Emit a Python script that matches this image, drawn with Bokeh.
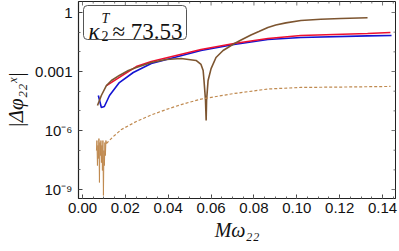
import numpy as np
from bokeh.plotting import figure
from bokeh.models import (Range1d, FixedTicker, Label, BoxAnnotation, NumeralTickFormatter)
from bokeh.embed import file_html
from bokeh.resources import INLINE

# ---------------- data ----------------
red_x = [0.0112, 0.0172, 0.0251, 0.0321, 0.0553, 0.0707, 0.0865, 0.1019, 0.1330, 0.1437]
red_y = [1.9e-4, 5.0e-4, 1.78e-3, 3.24e-3, 1.32e-2, 2.63e-2, 4.79e-2, 6.76e-2, 8.51e-2, 9.55e-2]

blue_x = [0.0074, 0.0088, 0.0102, 0.0126, 0.0172, 0.0237, 0.0321, 0.0553, 0.0707, 0.0865, 0.1019, 0.1330, 0.1442]
blue_y = [6.03e-5, 1.48e-5, 1.66e-5, 6.03e-5, 2.75e-4, 8.91e-4, 2.57e-3, 1.17e-2, 2.34e-2, 4.27e-2, 5.37e-2, 6.46e-2, 6.76e-2]

brown_x = [0.0070, 0.0088, 0.0112, 0.0135, 0.0172, 0.0214, 0.0251, 0.0321, 0.0391, 0.0460,
           0.0530, 0.0553, 0.0563, 0.0567, 0.0574, 0.0577, 0.0579, 0.0586, 0.0600, 0.0623,
           0.0656, 0.0707, 0.0740, 0.0786, 0.0823, 0.0865, 0.0902, 0.0949, 0.1019, 0.1112,
           0.1205, 0.1330]
brown_y = [1.86e-5, 6.03e-5, 1.95e-4, 3.49e-4, 6.31e-4, 1.12e-3, 1.58e-3, 2.88e-3, 4.07e-3, 4.57e-3,
           3.63e-3, 2.29e-3, 1.12e-3, 3.47e-4, 3.39e-5, 3.24e-6, 3.39e-5, 3.47e-4, 1.41e-3, 5.13e-3,
           1.17e-2, 2.57e-2, 3.98e-2, 7.24e-2, 0.108, 0.173, 0.229, 0.296, 0.392, 0.451,
           0.495, 0.538]

noise_x = [0.00651, 0.00674, 0.00698, 0.00721, 0.00744, 0.00767, 0.00791, 0.00814, 0.00837, 0.00860,
           0.00884, 0.00907, 0.00930, 0.00953, 0.00977, 0.01000, 0.01023, 0.01047, 0.01070, 0.01093, 0.01116]
noise_y = [9.55e-8, 3.09e-7, 1.66e-8, 1.74e-7, 3.80e-8, 3.89e-7, 2.29e-9, 2.45e-7, 5.37e-8, 3.09e-7,
           2.34e-8, 1.74e-7, 9.33e-9, 3.09e-7, 5.01e-10, 9.55e-8, 1.66e-8, 2.45e-7, 5.37e-8, 3.09e-7, 2.19e-7]

dash_x = [0.01116, 0.01442, 0.01814, 0.02512, 0.03209, 0.03907, 0.04605, 0.05535, 0.0707, 0.08651,
          0.10186, 0.12047, 0.14372]
dash_y = [2.19e-7, 5.01e-7, 1.12e-6, 2.88e-6, 6.17e-6, 1.17e-5, 2.09e-5, 3.98e-5, 7.59e-5, 1.29e-4,
          1.55e-4, 1.62e-4, 1.74e-4]

x_ticks = [0.0, 0.02, 0.04, 0.06, 0.08, 0.10, 0.12, 0.14]
y_ticks = [1e-9, 1e-6, 1e-3, 1.0]
y_tick_labels = ["10⁻⁹", "10⁻⁶", "0.001", "1"]
y_minor = [1e-8, 1e-7, 1e-5, 1e-4, 1e-2, 1e-1]
x_minor = [round(0.005 * i, 3) for i in range(0, 30)]

x_label = "Mω₂₂"
y_label = "|Δφ₂₂ˣ|"

X0, X1 = -0.00186, 0.14605
Y0, Y1 = 10 ** -9.456, 10 ** 0.559

# ---------------- figure ----------------
p = figure(width=399, height=251, x_range=Range1d(X0, X1),
           y_range=Range1d(Y0, Y1), y_axis_type="log",
           output_backend="svg", toolbar_location=None,
           min_border_left=77, min_border_right=4, min_border_top=1, min_border_bottom=53)
p.grid.visible = False
p.outline_line_color = "#222222"
p.outline_line_width = 1
p.background_fill_color = "white"
p.border_fill_color = "white"

for ax in (p.xaxis[0], p.yaxis[0]):
    ax.axis_line_color = "#222222"
    ax.axis_line_width = 1.2
    ax.major_tick_in = 4
    ax.major_tick_out = 0
    ax.minor_tick_in = 2
    ax.minor_tick_out = 0
    ax.major_tick_line_color = "#444444"
    ax.minor_tick_line_color = "#666666"
    ax.major_label_text_font = "Liberation Sans"
    ax.major_label_text_font_size = "15px"
    ax.major_label_text_color = "#111111"
    ax.axis_label_text_font = "Liberation Serif"
    ax.axis_label_text_font_style = "italic"
    ax.axis_label_text_color = "#111111"

p.xaxis.ticker = FixedTicker(ticks=x_ticks, minor_ticks=x_minor)
p.xaxis.formatter = NumeralTickFormatter(format="0.00")
p.xaxis.major_label_standoff = 4
p.xaxis.axis_label = x_label
p.xaxis.axis_label_text_font_size = "20px"
p.xaxis.axis_label_standoff = 3

p.yaxis.ticker = FixedTicker(ticks=y_ticks, minor_ticks=y_minor)
p.yaxis.major_label_overrides = {t: s for t, s in zip(y_ticks, y_tick_labels)}
p.yaxis.major_label_standoff = 6
p.yaxis.axis_label = y_label
p.yaxis.axis_label_text_font_size = "21px"
p.yaxis.axis_label_standoff = 4

# mirrored tick marks on the top and right frame edges
xpx = (X1 - X0) / 318.0
ypx = (np.log10(Y1) - np.log10(Y0)) / 197.0
tx = [t for t in x_ticks] + [t for t in x_minor if t not in x_ticks]
tl = [4] * len(x_ticks) + [2] * (len(tx) - len(x_ticks))
p.segment(x0=tx, x1=tx, y0=[Y1] * len(tx), y1=[Y1 / 10 ** (ypx * l) for l in tl],
          line_color="#777777", line_width=1)
ty = list(y_ticks) + list(y_minor)
tyl = [4] * len(y_ticks) + [2] * len(y_minor)
p.segment(x0=[X1] * len(ty), x1=[X1 - xpx * l for l in tyl], y0=ty, y1=ty,
          line_color="#777777", line_width=1)

# ---------------- curves ----------------
p.line(blue_x, blue_y, line_color="#1414d2", line_width=1.6)
p.line(red_x, red_y, line_color="#ee1030", line_width=1.6)
p.line(brown_x, brown_y, line_color="#7d5530", line_width=1.6)
p.line(noise_x, noise_y, line_color="#c08a50", line_width=1.0)
p.line(dash_x, dash_y, line_color="#c08a50", line_width=1.2, line_dash="3 2")

# ---------------- annotation box ----------------
box = BoxAnnotation(left=5, right=108, top=193, bottom=159,
                    left_units="screen", right_units="screen", top_units="screen", bottom_units="screen",
                    fill_color="white", fill_alpha=1.0, line_color="#555555", line_alpha=1.0, line_width=1,
                    border_radius=4, level="annotation")
p.add_layout(box)

serif = "Liberation Serif"
def lab(x, y, t, size, style="normal"):
    p.add_layout(Label(x=x, y=y, x_units="screen", y_units="screen", text=t,
                       text_font=serif, text_font_size=f"{size}px", text_font_style=style,
                       text_color="#111111", text_baseline="alphabetic", text_align="left"))

lab(10, 167, "κ", 23, "italic")
lab(23, 180, "T", 14, "italic")
lab(23, 163, "2", 14)
lab(34, 167, "≈ 73.53", 23)

open("out.html", "w").write(file_html(p, INLINE))
